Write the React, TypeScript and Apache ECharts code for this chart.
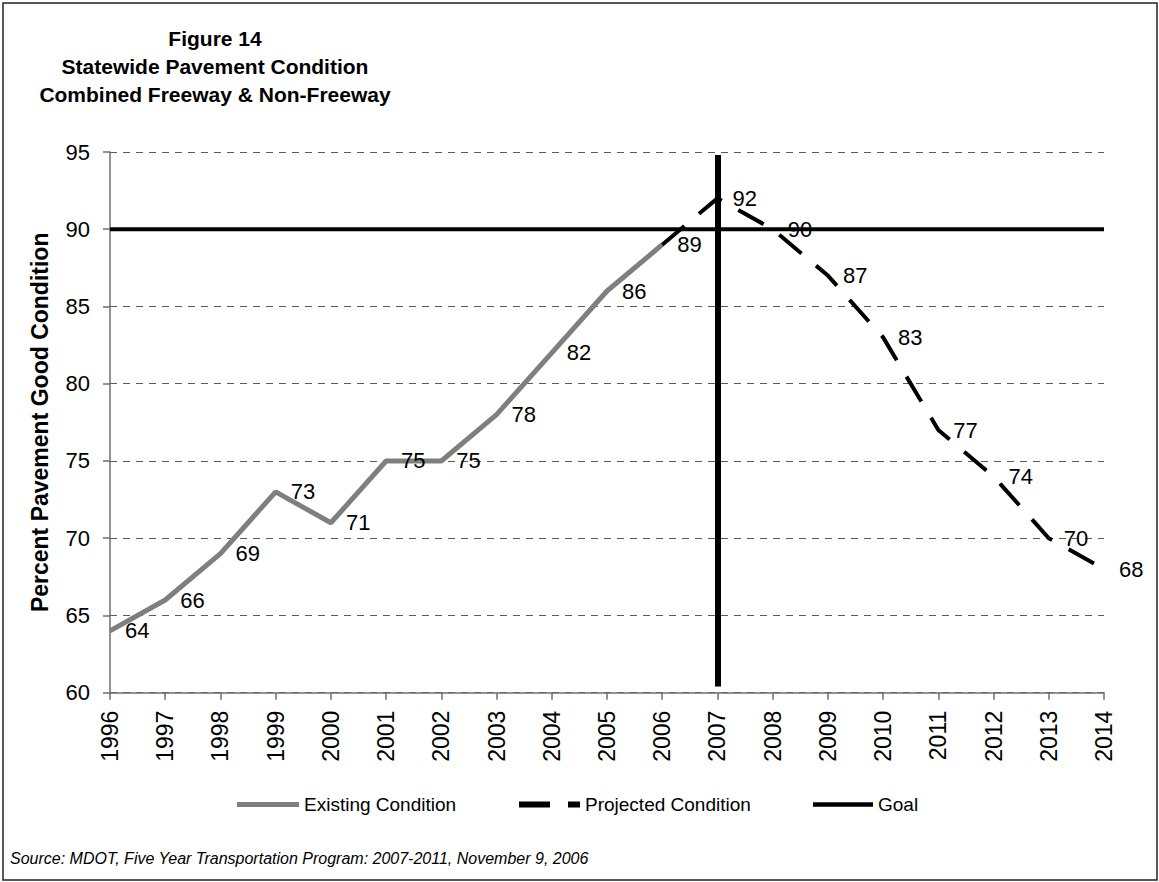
import React, { useEffect, useRef } from "react";
import * as echarts from "echarts";

const years = [
  "1996", "1997", "1998", "1999", "2000", "2001", "2002", "2003", "2004", "2005",
  "2006", "2007", "2008", "2009", "2010", "2011", "2012", "2013", "2014",
];
// Existing condition 1996-2006
const existingValues = [64, 66, 69, 73, 71, 75, 75, 78, 82, 86, 89];
// Projected condition 2006-2014
const projectedStartYear = "2006";
const projectedValues = [89, 92, 90, 87, 83, 77, 74, 70, 68];
const goalValue = 90;
// Vertical marker at 2007
const markerYear = "2007";
const markerTop = 94.8;
const markerBottom = 60.4;

const yTicks = { min: 60, max: 95, interval: 5 };

const titleLines = [
  "Figure 14",
  "Statewide Pavement Condition",
  "Combined Freeway & Non-Freeway",
];
const sourceText =
  "Source: MDOT, Five Year Transportation Program: 2007-2011, November 9, 2006";

const FONT = "'Liberation Sans', Arial, Helvetica, sans-serif";

export default function App() {
  const ref = useRef<HTMLDivElement>(null);

  useEffect(() => {
    document.body.style.margin = "0";
    if (!ref.current) return;
    const chart = echarts.init(ref.current, null, { renderer: "svg" });

    const startIdx = years.indexOf(projectedStartYear);
    const existingData = years.map((_, i) =>
      i < existingValues.length ? existingValues[i] : "-"
    );
    const projectedData = years.map((_, i) =>
      i < startIdx ? "-" : projectedValues[i - startIdx]
    );
    // labels: projected labels start after the shared 2006 point
    const projectedLabelData = years.map((_, i) =>
      i <= startIdx ? "-" : projectedValues[i - startIdx]
    );
    const goalData = years.map(() => goalValue);

    const dataLabel = {
      show: true,
      position: "right" as const,
      distance: 15,
      color: "#000",
      opacity: 1,
      textBorderWidth: 0,
      fontSize: 22,
      fontFamily: FONT,
    };

    const legendText = { color: "#000", fontSize: 19, fontFamily: FONT };

    const labelSeries = (name: string, data: any[]) => ({
      name,
      type: "scatter",
      data,
      symbol: "circle",
      symbolSize: 0.01,
      itemStyle: { color: "#000", opacity: 1 },
      label: dataLabel,
      silent: true,
      z: 6,
    });

    chart.setOption({
      animation: false,
      backgroundColor: "#fff",
      grid: { left: 110, right: 55, top: 152, bottom: 189.3, containLabel: false },
      xAxis: {
        type: "category",
        data: years,
        boundaryGap: false,
        axisLine: { lineStyle: { color: "#6e6e6e", width: 1.5 } },
        axisTick: { show: true, length: 7, alignWithLabel: true, lineStyle: { color: "#6e6e6e", width: 1.5 } },
        axisLabel: { rotate: 90, margin: 18, color: "#000", fontSize: 23, fontFamily: FONT, interval: 0 },
        splitLine: { show: false },
      },
      yAxis: {
        type: "value",
        min: yTicks.min,
        max: yTicks.max,
        interval: yTicks.interval,
        name: "Percent Pavement Good Condition",
        nameLocation: "middle",
        nameGap: 59,
        nameRotate: 90,
        nameTextStyle: { color: "#000", fontSize: 23, fontWeight: "bold", fontFamily: FONT },
        axisLine: { show: true, lineStyle: { color: "#6e6e6e", width: 1.5 } },
        axisTick: { show: true, length: 7, lineStyle: { color: "#6e6e6e", width: 1.5 } },
        axisLabel: { margin: 20, color: "#000", fontSize: 22, fontFamily: FONT },
        splitLine: { show: true, lineStyle: { color: "#5a5a5a", width: 1, type: [7, 6] } },
      },
      legend: [
        {
          data: [{ name: "Existing Condition", icon: "path://M0,0H62V5H0Z" }],
          left: 237, top: 795, padding: 0, itemWidth: 62, itemHeight: 5, itemGap: 0,
          textStyle: legendText,
        },
        {
          data: [{ name: "Projected Condition", icon: "path://M0,0H31V6H0ZM49,0H61V6H49Z" }],
          left: 519, top: 795, padding: 0, itemWidth: 61, itemHeight: 6, itemGap: 0,
          textStyle: legendText,
        },
        {
          data: [{ name: "Goal", icon: "path://M0,0H60V4.5H0Z" }],
          left: 813, top: 795, padding: 0, itemWidth: 60, itemHeight: 4.5, itemGap: 0,
          textStyle: legendText,
        },
      ],
      series: [
        {
          name: "Existing Condition",
          type: "line",
          data: existingData,
          symbol: "none",
          lineStyle: { color: "#7f7f7f", width: 5 },
          itemStyle: { color: "#7f7f7f" },
          z: 2,
        },
        {
          name: "Projected Condition",
          type: "line",
          data: projectedData,
          symbol: "none",
          lineStyle: { color: "#000", width: 4, type: [29, 19] },
          itemStyle: { color: "#000" },
          z: 3,
        },
        {
          name: "Goal",
          type: "line",
          data: goalData,
          symbol: "none",
          lineStyle: { color: "#000", width: 4 },
          itemStyle: { color: "#000" },
          z: 4,
          markLine: {
            silent: true,
            symbol: ["none", "none"],
            label: { show: false },
            lineStyle: { color: "#000", width: 6, type: "solid" },
            data: [[{ coord: [markerYear, markerTop] }, { coord: [markerYear, markerBottom] }]],
          },
        },
        labelSeries("Existing Labels", existingData),
        labelSeries("Projected Labels", projectedLabelData),
      ],
      graphic: [
        {
          type: "rect",
          shape: { x: 3, y: 3, width: 1154, height: 877 },
          style: { fill: "none", stroke: "#222", lineWidth: 1.5 },
          silent: true,
          z: -10,
        },
        ...titleLines.map((t, i) => ({
          type: "text",
          x: 215,
          y: 38 + i * 28,
          style: {
            text: t,
            align: "center",
            verticalAlign: "middle",
            fontSize: 21,
            fontWeight: "bold",
            fontFamily: FONT,
            fill: "#000",
          },
        })),
        {
          type: "text",
          x: 10,
          y: 858,
          style: {
            text: sourceText,
            align: "left",
            verticalAlign: "middle",
            fontSize: 16,
            fontStyle: "italic",
            fontFamily: FONT,
            fill: "#000",
          },
        },
      ],
    });

    return () => chart.dispose();
  }, []);

  return <div ref={ref} style={{ width: 1159, height: 882 }} />;
}
